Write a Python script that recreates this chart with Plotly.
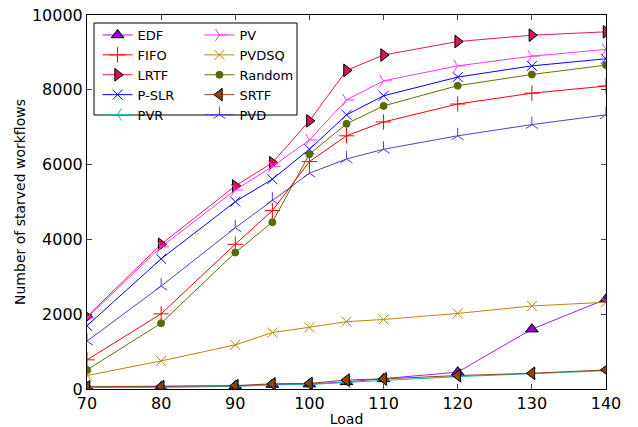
import plotly.graph_objects as go

loads = [70, 80, 90, 95, 100, 105, 110, 120, 130, 140]

edf = [50, 55, 80, 120, 130, 190, 270, 450, 1600, 2400]
fifo = [780, 2010, 3870, 4770, 6080, 6770, 7140, 7620, 7910, 8100]
lrtf = [1935, 3870, 5430, 6050, 7170, 8520, 8930, 9290, 9460, 9550]
pslr = [1690, 3480, 5010, 5610, 6410, 7330, 7840, 8340, 8640, 8830]
pvr = [40, 45, 70, 110, 120, 180, 230, 330, 410, 490]
pv = [1900, 3800, 5320, 5950, 6660, 7730, 8240, 8640, 8900, 9080]
pvdsq = [360, 750, 1180, 1510, 1650, 1800, 1860, 2020, 2220, 2320]
random_ = [510, 1760, 3650, 4460, 6280, 7090, 7570, 8110, 8410, 8660]
srtf = [60, 65, 90, 140, 150, 240, 270, 360, 420, 510]
pvd = [1280, 2750, 4310, 5050, 5770, 6150, 6410, 6770, 7070, 7330]

x_ticks = [70, 80, 90, 100, 110, 120, 130, 140]
y_ticks = [0, 2000, 4000, 6000, 8000, 10000]

# name, values, line colour, symbol, fill, edge, size, legend
series = [
    ("EDF", edf, "#a020f0", "triangle-up", "#9400D3", "black", 11, "legend"),
    ("FIFO", fifo, "#ff0000", "cross-thin", "#ff0000", "#ff0000", 11, "legend"),
    ("LRTF", lrtf, "#e8155a", "triangle-right", "#d4145a", "black", 11, "legend"),
    ("P-SLR", pslr, "#0000ff", "x-thin", "#0000ff", "#0000ff", 10, "legend"),
    ("PVR", pvr, "#20b2aa", "y-left", "#20b2aa", "#20b2aa", 10, "legend"),
    ("PV", pv, "#ff33ff", "y-right", "#ff33ff", "#ff33ff", 10, "legend2"),
    ("PVDSQ", pvdsq, "#b8860b", "x-thin", "#b8860b", "#b8860b", 10, "legend2"),
    ("Random", random_, "#6b6b00", "circle", "#556b00", "#556b00", 7, "legend2"),
    ("SRTF", srtf, "#8b4513", "triangle-left", "#8b4513", "black", 11, "legend2"),
    ("PVD", pvd, "#5a3cc0", "y-up", "#5a3cc0", "#5a3cc0", 10, "legend2"),
]

fig = go.Figure()
for name, vals, lc, sym, fc, ec, sz, lg in series:
    fig.add_trace(go.Scatter(
        x=loads, y=vals, name=name, mode="lines+markers",
        line=dict(color=lc, width=1),
        marker=dict(symbol=sym, color=fc, size=sz, line=dict(color=ec, width=1)),
        legend=lg,
    ))

font = "DejaVu Sans, sans-serif"
fig.update_layout(
    width=638, height=427,
    margin=dict(l=87, r=32, t=15, b=38),
    paper_bgcolor="white", plot_bgcolor="white",
    font=dict(family=font, color="black", size=13),
    xaxis=dict(range=[70, 140], tickvals=x_ticks, ticktext=[str(v) for v in x_ticks],
               ticks="inside", ticklen=5, automargin=False,
               mirror="ticks", showline=True, linecolor="black", linewidth=1,
               showgrid=False, zeroline=False, tickfont=dict(size=16),
               title=dict(text="Load", font=dict(size=14), standoff=4)),
    yaxis=dict(range=[0, 10000], tickvals=y_ticks, ticktext=[str(v) for v in y_ticks],
               ticks="inside", ticklen=5, automargin=False,
               mirror="ticks", showline=True, linecolor="black", linewidth=1,
               showgrid=False, zeroline=False, tickfont=dict(size=16),
               title=dict(text="Number of starved workflows", font=dict(size=14), standoff=2)),
    legend=dict(x=0.0204, y=0.9866, xanchor="left", yanchor="top", bgcolor="rgba(0,0,0,0)",
                borderwidth=0, font=dict(size=13), tracegroupgap=0, itemwidth=30),
    legend2=dict(x=0.2166, y=0.9866, xanchor="left", yanchor="top", bgcolor="rgba(0,0,0,0)",
                 borderwidth=0, font=dict(size=13), tracegroupgap=0, itemwidth=30),
    shapes=[dict(type="rect", xref="paper", yref="paper",
                 x0=(94 - 87) / 519, x1=(297 - 87) / 519,
                 y0=(389 - 115) / 374, y1=(389 - 23) / 374,
                 line=dict(color="black", width=1), fillcolor="white", layer="above")],
)

fig.write_html("out.html")
